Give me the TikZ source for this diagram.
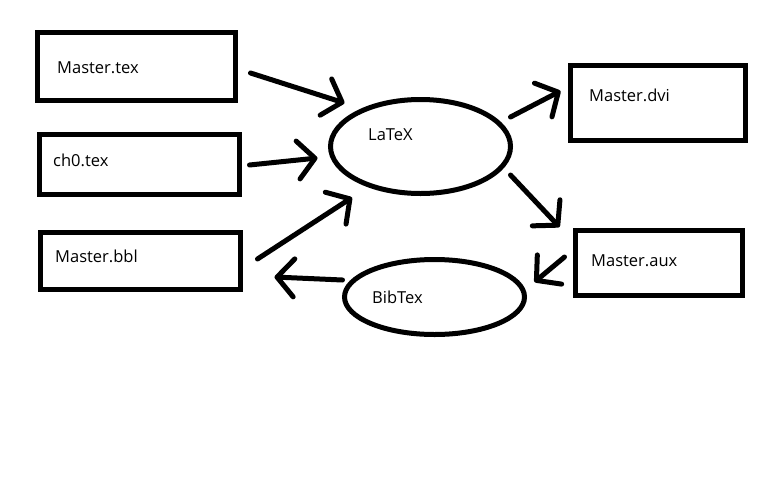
\documentclass[tikz,border=0pt]{standalone}
\usepackage{fontspec}
\setmainfont{Open Sans}
\usetikzlibrary{arrows.meta,shapes.geometric}
\tikzset{%
  >={Straight Barb[length=17pt,width=38pt,round]},
  % Specifications for style of nodes:
         base/.style = {draw=black, line width=5pt, inner sep=0pt},
      fileBox/.style = {base, rectangle},
     toolOval/.style = {base, ellipse},
     fileName/.style = {anchor=base west, inner sep=0pt,
                        font=\fontsize{16.5}{19}\selectfont},
         flow/.style = {->, line width=5pt, line cap=round},
}
\begin{document}
\begin{tikzpicture}[x=1pt, y=-1pt]
  \useasboundingbox[fill=white] (0,0) rectangle (776,496);
  % Specification of nodes (position, etc.)
    \node (masterTex) [fileBox, minimum width=198pt, minimum height=68pt] at (136.5,66.5) {};
    \node (chTex)     [fileBox, minimum width=200pt, minimum height=60pt] at (139.5,164.5) {};
    \node (masterBbl) [fileBox, minimum width=200pt, minimum height=57pt] at (140.5,261) {};
    \node (latex)     [toolOval, minimum width=180pt, minimum height=94pt] at (420.5,146.5) {};
    \node (bibtex)    [toolOval, minimum width=180pt, minimum height=75pt] at (434.5,297) {};
    \node (masterDvi) [fileBox, minimum width=175pt, minimum height=75pt] at (658,103) {};
    \node (masterAux) [fileBox, minimum width=167pt, minimum height=65pt] at (659,263) {};
  % texts written inside the shapes
    \node (masterTexName) [fileName] at (57,73)   {Master.tex};
    \node (chTexName)     [fileName] at (53,166)  {ch0.tex};
    \node (masterBblName) [fileName] at (55,262)  {Master.bbl};
    \node (latexName)     [fileName] at (368,140) {LaTeX};
    \node (bibtexName)    [fileName] at (372,303) {BibTex};
    \node (masterDviName) [fileName] at (589,101) {Master.dvi};
    \node (masterAuxName) [fileName] at (591,266) {Master.aux};
  % Specification of lines between nodes specified above
    \draw[flow] ([shift={(12.5,6.5)}]masterTex.east)  -- ([shift={(16.5,-43.5)}]latex.west);
    \draw[flow] ([shift={(7.5,0.5)}]chTex.east)       -- ([shift={(-10.5,11.5)}]latex.west);
    \draw[flow] ([shift={(14.5,-2)}]masterBbl.east)   -- ([shift={(-68.5,1.5)}]latex.south);
    \draw[flow] ([shift={(-2.5,-29.5)}]latex.east)    -- ([shift={(-7.5,-12)}]masterDvi.west);
    \draw[flow] ([shift={(-2.5,28.5)}]latex.east)     -- ([shift={(-13.5,-36)}]masterAux.west);
    \draw[flow] ([shift={(-8.5,-6)}]masterAux.west)   -- ([shift={(7.5,-15)}]bibtex.east);
    \draw[flow] ([shift={(0.5,-17)}]bibtex.west)      -- ([shift={(31.5,16)}]masterBbl.east);
\end{tikzpicture}
\end{document}
